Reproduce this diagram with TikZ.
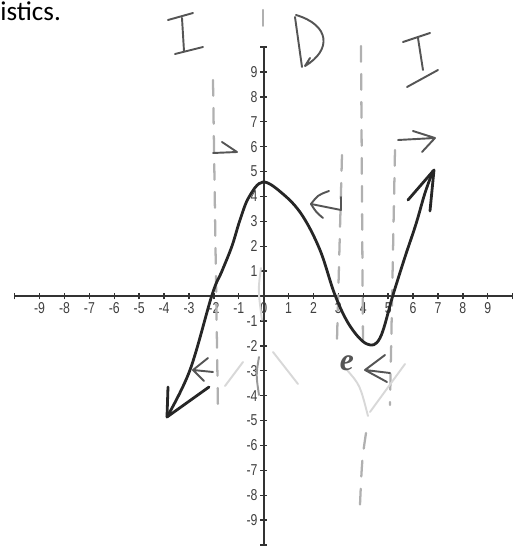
\documentclass[tikz,border=0pt]{standalone}
\usepackage{fontspec}
\setmainfont{Carlito}
\newfontfamily\labelfont[FakeStretch=0.78]{Liberation Sans}
\newfontfamily\handfont{Liberation Serif}
\usetikzlibrary{arrows.meta}
\definecolor{Ink}{HTML}{262626}
\definecolor{Pencil}{HTML}{555555}
\definecolor{Faint}{HTML}{B0B0B0}
\definecolor{Ghost}{HTML}{D8D8D8}

\begin{document}
\begin{tikzpicture}[
    x=0.5cm, y=0.5cm,
    axis/.style={line width=1.1pt,black!80},
    tick/.style={line width=0.8pt,black!80},
    num/.style={font=\labelfont\fontsize{9}{9}\selectfont,text=black!75,inner sep=0.5pt},
    curve/.style={line width=1.6pt,Ink,line cap=round,line join=round},
    pen/.style={line width=1.1pt,Pencil,line cap=round,line join=round},
    guide/.style={line width=1.3pt,Faint,line cap=round,dash pattern=on 9pt off 7pt},
    ghost/.style={line width=1.1pt,Ghost,line cap=round},
  ]
  \def\tk{0.14}   % half tick length
  \useasboundingbox (-10.5904,-10.1205) rectangle (10.6546,11.8876);

  % ---------- axes, -10..10 both ways ----------
  \draw[axis] (-10,0) -- (10,0);
  \draw[axis] (0,-10) -- (0,10);
  \foreach \i in {-10,...,10}
    {\draw[tick] (\i,-\tk) -- (\i,\tk);
     \draw[tick] (-\tk,\i) -- (\tk,\i);}
  \foreach \i in {-9,...,9}
    \node[num] (xl\i) at (\i,-0.5) {\i};
  \foreach \i in {-9,...,-1,1,2,...,9}
    \node[num,anchor=east] (yl\i) at (-0.2,\i) {\i};

  % ---------- pen marks, in pixels of the scan ----------
  \begin{scope}[shift={(-5.2952cm,5.9438cm)}, x=0.2008mm, y=-0.2008mm]
    \node[anchor=base west,inner sep=0pt,font=\fontsize{15.5}{15.5}\selectfont]
      (head) at (0,20) {istics.};

    % dashed guides
    \draw[guide] (213,80) -- (218,412);
    \draw[guide] (263,10) -- (263,26);
    \draw[guide] (361,46) -- (363,345);
    \draw[guide] (366,433) .. controls (362,460) .. (360,505);
    \draw[guide] (342,155) -- (337,340);
    \draw[guide] (395,150) -- (390,405);

    % faint erased strokes
    \draw[ghost] (243,362) -- (225,386);
    \draw[ghost] (273,352) -- (298,384);
    \draw[ghost] (261,268) .. controls (258,290) .. (262,320);
    \draw[ghost] (347,370) .. controls (360,385) .. (368,416);
    \draw[ghost] (405,364) -- (370,412);
    \draw[pen,black!40] (259,357) .. controls (256,375) .. (259,395);

    % the curve with its end arrows
    \draw[curve] plot[smooth,tension=0.6] coordinates {
        (167,417) (190,370) (212,295) (222,271) (232,246) (240,220)
        (249,197) (263,182) (283,194) (302,215) (320,250) (335,295)
        (350,326) (367,344) (380,338) (393,295) (405,257) (416,224)
        (425,193) (433,171)};
    \draw[curve] (168,387) -- (167,417) -- (209,387);
    \draw[curve] (408,200) -- (434,170) -- (430,211);

    % I  D  I
    \draw[pen] (168,20) -- (193,13) (182,18) -- (184,51) (175,54) -- (203,47);
    \draw[pen] (295,17) -- (302,67);
    \draw[pen] (296,15) .. controls (330,25) and (332,50) .. (305,66)
               -- (310,58);
    \draw[pen] (403,42) -- (430,33) (418,38) -- (423,70) (407,87) -- (438,70);

    % little arrows
    \draw[pen] (213,153) -- (237,152) -- (222,142);
    \draw[pen] (341,197) -- (341,210) -- (311,204);
    \draw[pen] (329,191) .. controls (318,195) .. (311,204) .. controls (316,212) .. (323,218);
    \draw[pen] (398,140) -- (435,138) (413,131) -- (435,138) -- (422,152);
    \draw[pen] (213,372) -- (193,370) (208,358) -- (193,370) -- (204,381);
    \draw[pen] (390,373) -- (365,370) (385,355) -- (365,370) -- (387,382);
    \node[pen,font=\handfont\bfseries\itshape\fontsize{18}{18}\selectfont,
          text=Pencil,inner sep=0pt] (e) at (347,363) {e};
  \end{scope}
\end{tikzpicture}
\end{document}
